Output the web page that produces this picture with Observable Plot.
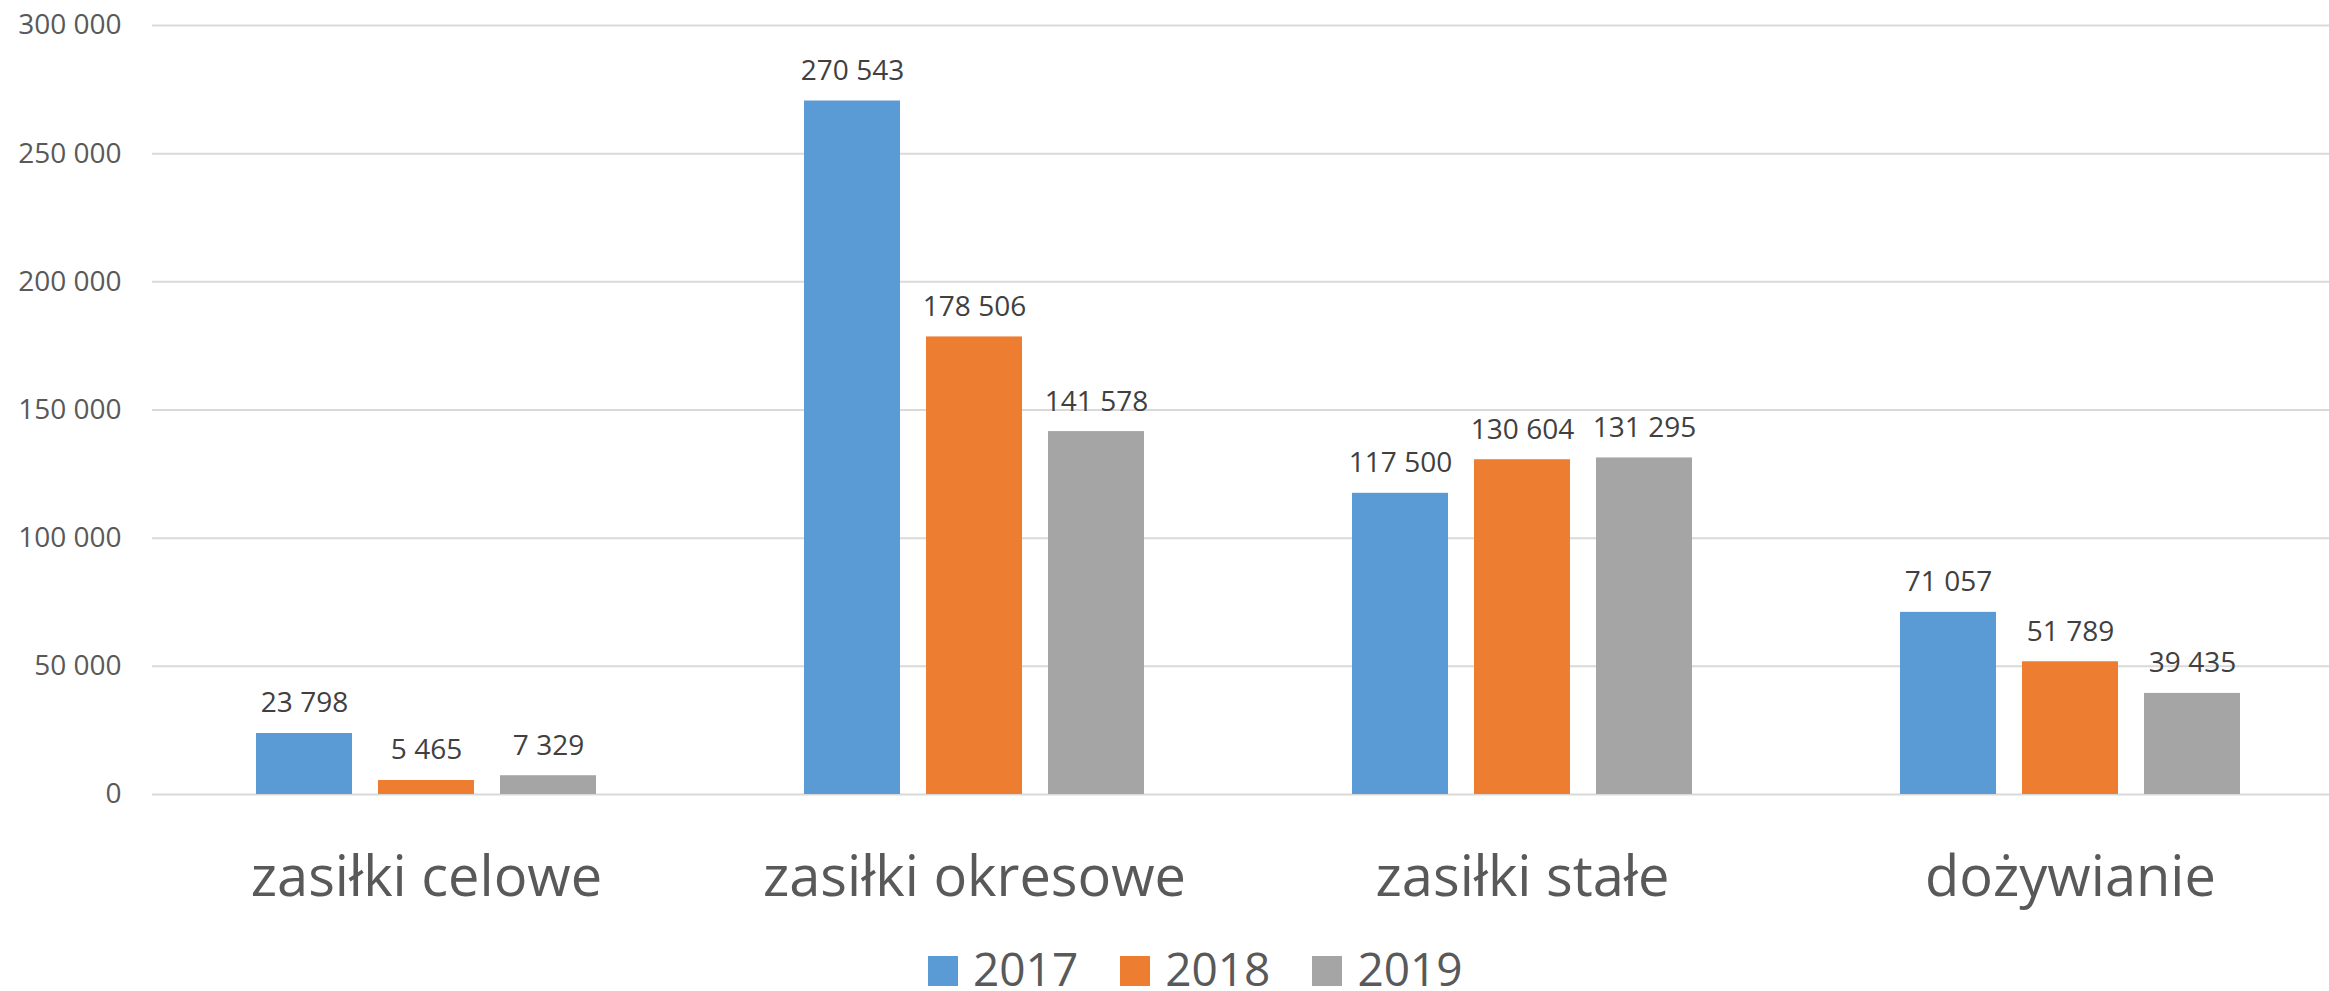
<!DOCTYPE html>
<html><head><meta charset="utf-8">
<script src="https://cdn.jsdelivr.net/npm/d3@7"></script>
<script src="https://cdn.jsdelivr.net/npm/@observablehq/plot@0.6"></script>
<style>
body{margin:0;background:#fff;font-family:"Open Sans",sans-serif;overflow:hidden;}
#legend{display:flex;align-items:center;padding-top:20px;margin-left:928px;}
#legend .item{display:flex;align-items:center;margin-right:42px;}
#legend .sw{width:30px;height:30px;margin-right:15px;margin-top:6px;}
#legend .lab{font-size:46px;line-height:36px;color:#595959;}
</style>
</head><body>
<div id="chart"></div>
<div id="legend"></div>
<script>
const categories = ["zasiłki celowe", "zasiłki okresowe", "zasiłki stałe", "dożywianie"];
const years = ["2017", "2018", "2019"];
const v2017 = [23798, 270543, 117500, 71057];
const v2018 = [5465, 178506, 130604, 51789];
const v2019 = [7329, 141578, 131295, 39435];
const yTicks = [0, 50000, 100000, 150000, 200000, 250000, 300000];
const colors = ["#5B9BD5", "#ED7D31", "#A5A5A5"];

const series = [v2017, v2018, v2019];
const data = [];
categories.forEach((c, i) => years.forEach((y, j) => data.push({category: c, year: y, value: series[j][i]})));

const fmt = d3.formatLocale({decimal: ",", thousands: "\u00a0", grouping: [3], currency: ["", ""]}).format(",d");

const chart = Plot.plot({
  width: 2329, height: 930,
  marginLeft: 151, marginRight: -15, marginTop: 25, marginBottom: 136,
  style: {fontFamily: "Open Sans", background: "white", overflow: "visible"},
  fx: {domain: categories, padding: 0, label: null},
  x: {domain: years, paddingInner: 0.213, paddingOuter: 0.852, axis: null},
  y: {domain: [0, 300000], axis: null},
  color: {domain: years, range: colors},
  marks: [
    Plot.gridY(yTicks, {stroke: "#d9d9d9", strokeOpacity: 1, strokeWidth: 2}),
    Plot.barY(data, {fx: "category", x: "year", y: "value", fill: "year"}),
    Plot.text(data, {fx: "category", x: "year", y: "value", text: d => fmt(d.value), lineAnchor: "bottom", dy: -21, fontSize: 28, fill: "#404040"}),
    Plot.axisY(yTicks, {tickSize: 0, tickPadding: 31, tickFormat: fmt, fontSize: 28, fill: "#595959", label: null}),
    Plot.axisFx({anchor: "bottom", tickSize: 0, tickPadding: 62, fontSize: 56, fill: "#595959", label: null})
  ]
});
document.getElementById("chart").appendChild(chart);

const legend = d3.select("#legend");
years.forEach((y, i) => {
  const it = legend.append("div").attr("class", "item");
  it.append("div").attr("class", "sw").style("background", colors[i]);
  it.append("span").attr("class", "lab").text(y);
});
</script>
</body></html>
